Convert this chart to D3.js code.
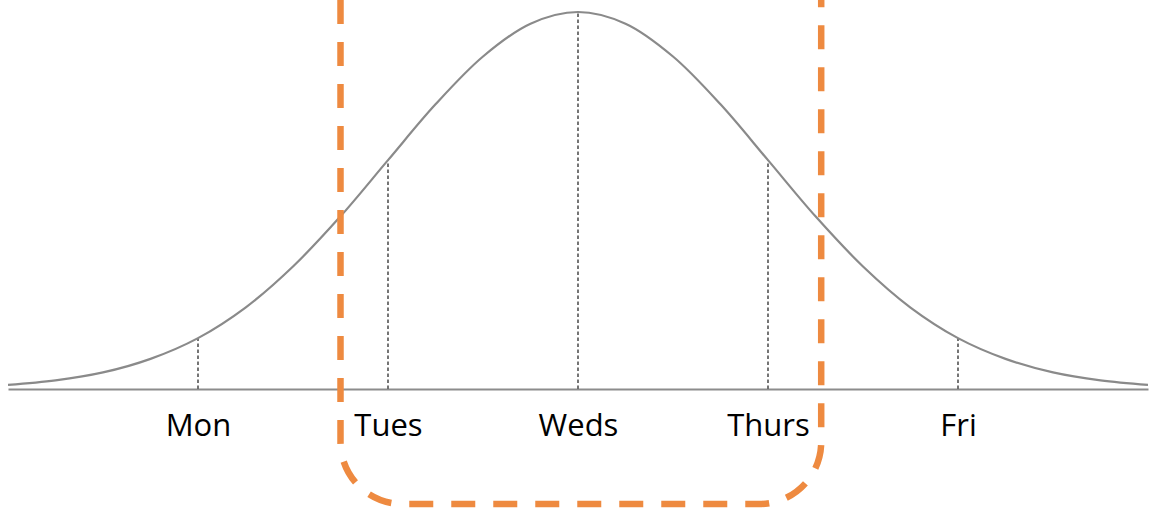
<!DOCTYPE html>
<html>
<head>
<meta charset="utf-8">
<script src="https://cdn.jsdelivr.net/npm/d3@7"></script>
<style>
  body { margin: 0; background: #fff; }
  svg { display: block; }
</style>
</head>
<body>
<div id="chartContainer"></div>
<script>
// days sit at -2..2 standard deviations
var days = ["Mon", "Tues", "Weds", "Thurs", "Fri"];
var dayPos = [-2, -1, 0, 1, 2];

// curve, relative height (peak = 1)
var curveX = [-3, -2.75, -2.5, -2.25, -2, -1.75, -1.5, -1.25, -1, -0.75, -0.5, -0.25, 0,
              0.25, 0.5, 0.75, 1, 1.25, 1.5, 1.75, 2, 2.25, 2.5, 2.75, 3];
var curveY = [0.011, 0.023, 0.044, 0.080, 0.135, 0.216, 0.325, 0.458, 0.607, 0.755, 0.882, 0.969, 1,
              0.969, 0.882, 0.755, 0.607, 0.458, 0.325, 0.216, 0.135, 0.080, 0.044, 0.023, 0.011];
var dayHeight = [0.135, 0.607, 1, 0.607, 0.135];

// highlighted window (Tues..Thurs)
var windowRange = [-1.25, 1.28];

var width = 1153, height = 512;
var baseY = 389;

var svg = d3.select("#chartContainer")
    .append("svg")
    .attr("width", width)
    .attr("height", height);

var xScale = d3.scaleLinear()
    .domain([-3, 3])
    .range([8, 1148]);

var yScale = d3.scaleLinear()
    .domain([0, 1])
    .range([baseY, 12]);

// x axis: baseline + day labels
var axis = d3.axisBottom(xScale)
    .tickValues(dayPos)
    .tickFormat(function(d, i) { return days[i]; })
    .tickSize(0)
    .tickSizeOuter(0)
    .tickPadding(25);

var gx = svg.append("g")
    .attr("transform", "translate(0," + baseY + ")")
    .call(axis);
gx.select(".domain").attr("stroke", "#8c8c8c").attr("stroke-width", 2);
gx.selectAll("text")
    .attr("fill", "#000")
    .style("font-family", "'Open Sans', sans-serif")
    .style("font-size", "31px");

// dotted drop lines
svg.selectAll("line.drop")
    .data(dayPos)
    .enter()
    .append("line")
    .attr("class", "drop")
    .attr("x1", function(d) { return xScale(d); })
    .attr("x2", function(d) { return xScale(d); })
    .attr("y1", baseY)
    .attr("y2", function(d, i) { return yScale(dayHeight[i]); })
    .attr("stroke", "#666")
    .attr("stroke-width", 1.8)
    .attr("stroke-dasharray", "3.5,2.5");

// bell curve
var line = d3.line()
    .x(function(d) { return xScale(d[0]); })
    .y(function(d) { return yScale(d[1]); })
    .curve(d3.curveCatmullRom);

svg.append("path")
    .datum(d3.zip(curveX, curveY))
    .attr("d", line)
    .attr("fill", "none")
    .attr("stroke", "#8a8a8a")
    .attr("stroke-width", 2.2);

// orange dashed bracket
var xl = xScale(windowRange[0]), xr = xScale(windowRange[1]);
var bottom = 504, r = 62;
var p = d3.path();
p.moveTo(xl, 0);
p.lineTo(xl, bottom - r);
p.arcTo(xl, bottom, xl + r, bottom, r);
p.lineTo(xr - r, bottom);
p.arcTo(xr, bottom, xr, bottom - r, r);
p.lineTo(xr, 0);

svg.append("path")
    .attr("d", p.toString())
    .attr("fill", "none")
    .attr("stroke", "#ee8a40")
    .attr("stroke-width", 6.5)
    .attr("stroke-dasharray", "24,18");
</script>
</body>
</html>
